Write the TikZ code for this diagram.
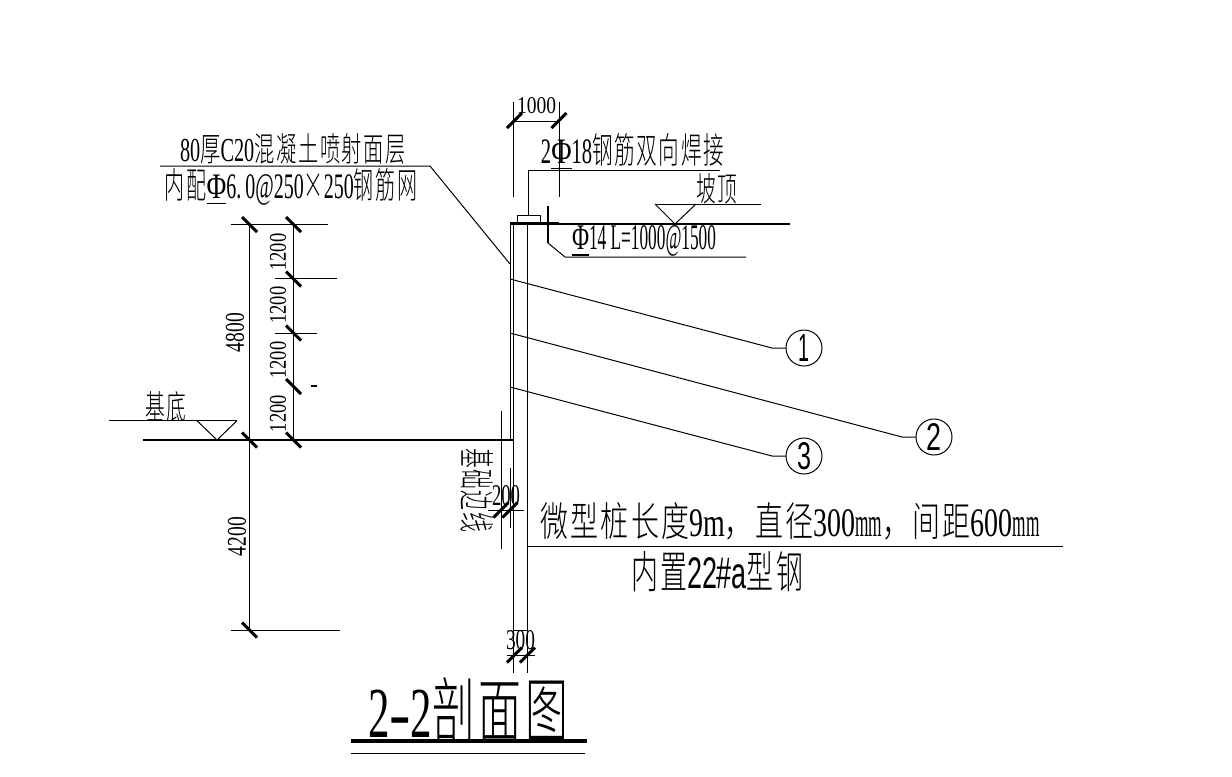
\documentclass[tikz,border=0pt]{standalone}
\usepackage{graphicx}
\usepackage{fontspec}
\setmainfont{Liberation Serif}
\newfontfamily\cjk[UprightFont=* Light,LetterSpace=8]{Noto Sans CJK SC}
\newfontfamily\sansb{Liberation Sans}
\newcommand\C[1]{{\cjk #1}}
\newcommand\UP{\scalebox{1.35}[1]{\underline{Φ}}}
\newcommand\MM{\scalebox{.62}[1]{mm}}
\newdimen\pxu \pxu=0.75pt
\newcommand\T[6]{\node[lab,rotate=#3] (#1) at (#2) {\resizebox{#4\pxu}{#5\pxu}{#6}};}
\newcommand\TB[2]{\draw[tick] (#1-7.5,#2-7.5) -- ++(15,15);}
\newcommand\TF[2]{\draw[tick] (#1-7.5,#2+7.5) -- ++(15,-15);}
\tikzset{
  lab/.style={inner sep=0pt,outer sep=0pt},
  thin line/.style={line width=0.75pt},
  heavy line/.style={line width=1.4pt},
  tick/.style={line width=2.3pt},
  bubble/.style={circle,draw,line width=0.75pt,minimum size=27pt,inner sep=0pt,outer sep=0pt},
}
\begin{document}
\begin{tikzpicture}[x=0.75pt,y=-0.75pt,line cap=butt]
\useasboundingbox (0,0) rectangle (1232,776);
% named points
\coordinate (w1) at (510,279);
\coordinate (w2) at (510,333);
\coordinate (w3) at (510,387);
\coordinate (k1) at (772,348);
\coordinate (k2) at (902,437);
\coordinate (k3) at (772,456);
% top dimension
\draw[thin line] (513.5,102) -- (513.5,197);
\draw[thin line] (559,102) -- (559,197);
\draw[thin line] (513.5,121) -- (559,121);
\TF{514.5}{120.5} \TF{559}{120.5}
% slope top
\draw[heavy line] (510,224.3) -- (790,224.3);
\draw[thin line] (510,440) -- (510,222) -- (559,222);
\draw[thin line] (517,224) -- (517,215) -- (540,215) -- (540,224);
\draw[thin line] (528,215) -- (528,170) -- (720,170);
\draw[thin line] (655,204) -- (675,224) -- (696,204);
\draw[thin line] (655,204) -- (761,204);
\draw[line width=2.2pt] (548,206) -- (548,243);
\draw[thin line] (548,243) -- (565,257) -- (746,257);
% wall and pile
\draw[heavy line] (513.5,224) -- (513.5,630);
\draw[thin line] (527.3,224) -- (527.3,630) -- (513.5,630);
% ground
\draw[heavy line] (143,440.3) -- (513.5,440.3);
\draw[thin line] (109,420.7) -- (237,420.7);
\draw[thin line] (197,420.7) -- (217,440) -- (237,420.7);
% left dimensions
\draw[thin line] (231,224.3) -- (328,224.3);
\draw[thin line] (249.5,224.3) -- (249.5,630);
\draw[thin line] (293,224.3) -- (293,440);
\draw[thin line] (275,278) -- (337,278);
\draw[thin line] (275,333) -- (317,333);
\draw[heavy line] (311,386) -- (317,386);
\draw[thin line] (231,630) -- (340,630);
\TB{249.5}{224.5} \TB{293.5}{224.5}
\TB{293.5}{279} \TB{293.5}{333} \TB{293.5}{386.5}
\TB{249.5}{440} \TB{293.5}{440}
\TB{249.5}{630}
% 200 dimension
\draw[thin line] (501,411) -- (501,549);
\draw[thin line] (510,468) -- (510,528);
\draw[thin line] (488,510) -- (524,510);
\TF{501}{510} \TF{510}{510}
% 300 dimension
\draw[thin line] (513.5,630) -- (513.5,673);
\draw[thin line] (527.3,630) -- (527.3,673);
\draw[thin line] (507,655) -- (535,655);
\TF{514.5}{655} \TF{527.5}{655}
% leaders
\draw[thin line] (160,166) -- (430,166) -- (510,264);
\draw[thin line] (527.3,546.5) -- (1063,546.5);
\node[bubble] (c1) at (804,348) {};
\node[bubble] (c2) at (934,437) {};
\node[bubble] (c3) at (804,456) {};
\draw[thin line] (w1) -- (k1) -- (c1);
\draw[thin line] (w2) -- (k2) -- (c2);
\draw[thin line] (w3) -- (k3) -- (c3);
\T{n1}{804,348}{0}{11}{27}{\sansb 1}
\T{n2}{934,437}{0}{15}{27}{\sansb 2}
\T{n3}{804,456}{0}{14}{27}{\sansb 3}
% title
\draw[line width=2.4pt] (351,741) -- (587,741);
\draw[thin line] (351,753) -- (585,753);
% texts
\T{t1000}{536.5,105.5}{0}{39}{16}{1000}
\T{t2}{632.5,152}{0}{183}{30}{2\UP 18\C{钢筋双向焊接}}
\T{t3}{716.5,189}{0}{41}{28}{\C{坡顶}}
\T{t4}{644,241.5}{0}{144}{24}{\UP 14 L=1000@1500}
\T{t5}{293,149}{0}{226}{28}{80\C{厚}C20\C{混凝土喷射面层}}
\T{t6}{291,187}{0}{252}{30}{\C{内配}\UP 6.\kern.2em 0@250\C{×}250\C{钢筋网}}
\T{t7}{165.5,407}{0}{41}{28}{\C{基底}}
\T{t8}{235,332.5}{90}{39}{18}{4800}
\T{t8b}{237,536.5}{90}{39}{18}{4200}
\T{t9}{278,252}{90}{37}{16}{1200}
\T{t10}{278,305}{90}{37}{16}{1200}
\T{t11}{278,360}{90}{37}{16}{1200}
\T{t12}{278,413.5}{90}{37}{16}{1200}
\T{t13}{506,496}{0}{28}{20}{200}
\T{t14}{477,490}{-90}{84}{30}{\C{基础边线}}
\T{t15}{520.5,640.5}{0}{29}{19}{300}
\T{t16}{790,521}{0}{499}{34}{\C{微型桩长度}9m\C{，直径}300\MM\C{，间距}600\MM}
\T{t17}{717,572}{0}{172}{37}{\C{内置}{\sansb 22\#a}\C{型钢}}
\T{t18}{468,710}{0}{200}{60}{2\scalebox{1.5}[1]{-}2\C{剖面图}}
\end{tikzpicture}
\end{document}
